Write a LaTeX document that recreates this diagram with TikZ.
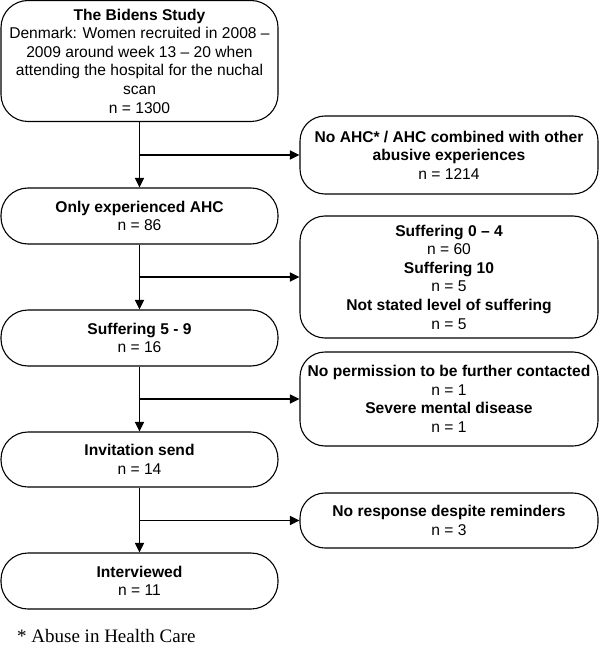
\documentclass[tikz,border=0pt]{standalone}
\usepackage{fontspec}
\setmainfont{Liberation Sans}
\newfontfamily\seriffont{Liberation Serif}
\usetikzlibrary{arrows.meta}
\begin{document}
\begin{tikzpicture}[x=1pt,y=-1pt,
 box/.style={draw, line width=1.1pt, align=center, inner sep=0pt, font=\fontsize{15.6}{18.6}\selectfont},
 lbox/.style={box, minimum width=277pt, rounded corners=27pt},
 rbox/.style={box, minimum width=298pt, rounded corners=25pt},
 arr/.style={line width=1.1pt, -{Triangle[length=9.5pt,width=9pt]}}]
\useasboundingbox (0,0) rectangle (600,647);
% left column
\node[lbox, minimum height=121pt] (b1) at (139.5,61) {\textbf{The Bidens Study}\\Denmark: Women recruited in 2008 --\\2009 around week 13 -- 20 when\\attending the hospital for the nuchal\\scan\\n = 1300};
\node[lbox, minimum height=56pt] (b2) at (139.5,216) {\textbf{Only experienced AHC}\\n = 86};
\node[lbox, minimum height=56pt] (b3) at (139.5,338) {\textbf{Suffering 5 - 9}\\n = 16};
\node[lbox, minimum height=55pt] (b4) at (139.5,459.5) {\textbf{Invitation send}\\n = 14};
\node[lbox, minimum height=56pt] (b5) at (139.5,581) {\textbf{Interviewed}\\n = 11};
% right column
\node[rbox, minimum height=78pt] (r1) at (449,155) {\textbf{No AHC* / AHC combined with other}\\\textbf{abusive experiences}\\n = 1214};
\node[rbox, minimum height=122pt] (r2) at (449,277) {\textbf{Suffering 0 -- 4}\\n = 60\\\textbf{Suffering 10}\\n = 5\\\textbf{Not stated level of suffering}\\n = 5};
\node[rbox, minimum height=94pt] (r3) at (449,399) {\textbf{No permission to be further contacted}\\n = 1\\\textbf{Severe mental disease}\\n = 1};
\node[rbox, minimum height=55pt] (r4) at (449,520.5) {\textbf{No response despite reminders}\\n = 3};
% junctions
\coordinate (j1) at (b1.south |- r1.west);
\coordinate (j2) at (b2.south |- r2.west);
\coordinate (j3) at (b3.south |- r3.west);
\coordinate (j4) at (b4.south |- r4.west);
% connectors
\draw[arr] (b1.south) -- (b2.north);
\draw[arr] (b2.south) -- (b3.north);
\draw[arr] (b3.south) -- (b4.north);
\draw[arr] (b4.south) -- (b5.north);
\draw[arr] (j1) -- (r1.west);
\draw[arr] (j2) -- (r2.west);
\draw[arr] (j3) -- (r3.west);
\draw[arr] (j4) -- (r4.west);
% footnote
\node[anchor=base west, inner sep=0pt, font=\seriffont\fontsize{19}{22}\selectfont] (fn) at (17,642) {* Abuse in Health Care};
\end{tikzpicture}
\end{document}
